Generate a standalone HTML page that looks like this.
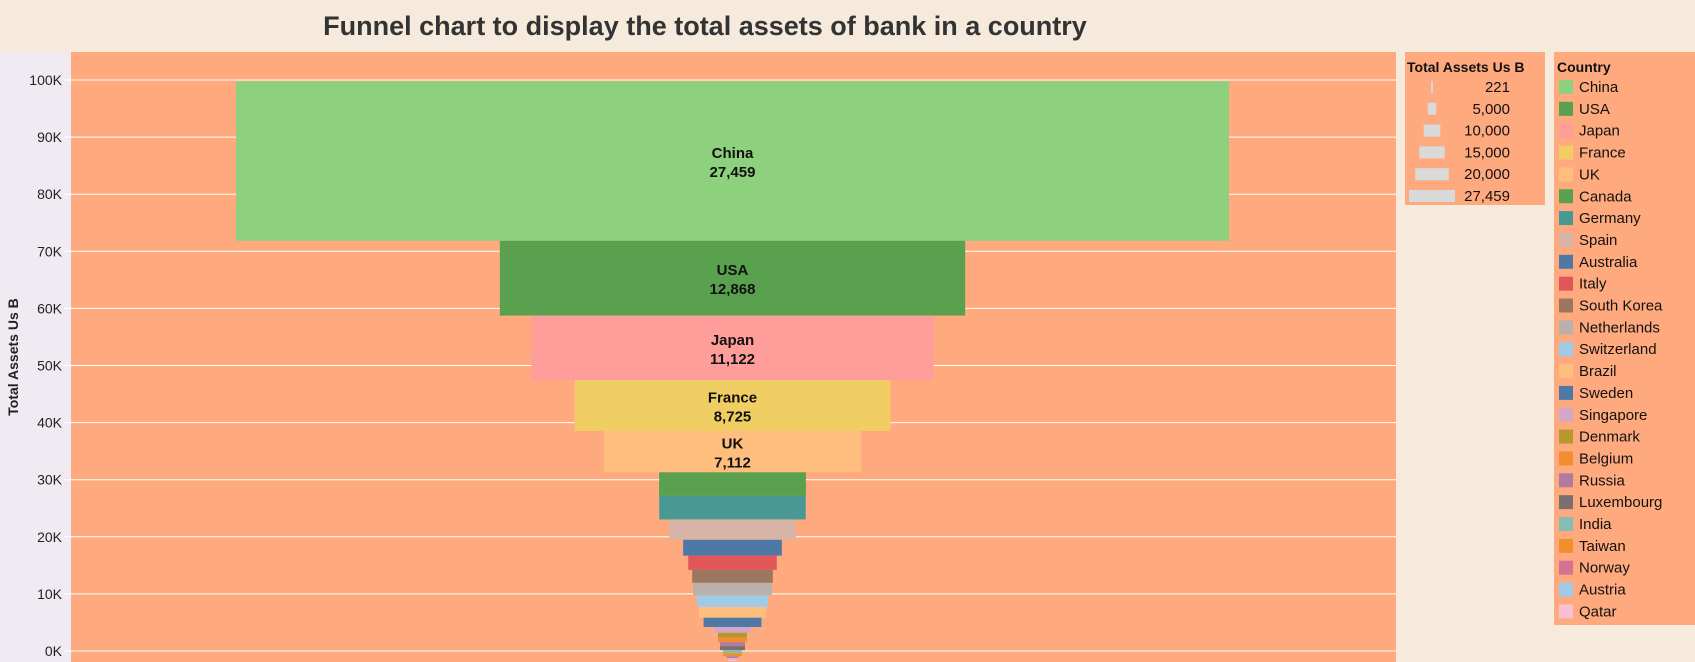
<!DOCTYPE html>
<html><head><meta charset="utf-8"><style>
body{margin:0;width:1695px;height:662px;overflow:hidden;background:#f5eadb;font-family:"Liberation Sans","DejaVu Sans",sans-serif;}
svg{display:block}
</style></head><body>
<svg id="chart" width="1695" height="662" xmlns="http://www.w3.org/2000/svg">
<rect x="0" y="0" width="1695" height="662" fill="#f5eadb"/>
<text x="705" y="35" text-anchor="middle" font-size="27" font-weight="bold" fill="#333">Funnel chart to display the total assets of bank in a country</text>
<rect x="0" y="52" width="71" height="610" fill="#f0ebf2"/>
<rect x="71" y="52" width="1325" height="610" fill="#ffaa7e"/>
<rect x="1405" y="52" width="140" height="153" fill="#ffaa7e"/>
<rect x="1554" y="52" width="141" height="573" fill="#ffaa7e"/>
<text transform="translate(18,357) rotate(-90)" text-anchor="middle" font-size="14" font-weight="bold" fill="#222">Total Assets Us B</text>
<g id="grid"></g><g id="bars"></g><g id="labels"></g><g id="slegend"></g><g id="clegend"></g>
</svg>
<script>
const countries=["China","USA","Japan","France","UK","Canada","Germany","Spain","Australia","Italy","South Korea","Netherlands","Switzerland","Brazil","Sweden","Singapore","Denmark","Belgium","Russia","Luxembourg","India","Taiwan","Norway","Austria","Qatar"];
const assets=[27459,12868,11122,8725,7112,4060,4050,3500,2730,2450,2230,2180,1960,1850,1600,1000,800,800,690,690,520,520,330,280,221];
const colors=["#8dd17e","#59a14f","#ff9d9a","#f1ce63","#ffbe7d","#59a14f","#499894","#d7b5a6","#4e79a7","#e15759","#9d7660","#bab0ac","#a0cbe8","#ffbe7d","#4e79a7","#d4a6c8","#b6992d","#f28e2b","#b07aa1","#79706e","#86bcb6","#f28e2b","#d37295","#a0cbe8","#fabfd2"];
const yTicks=[0,10000,20000,30000,40000,50000,60000,70000,80000,90000,100000];
const yTickLabels=["0K","10K","20K","30K","40K","50K","60K","70K","80K","90K","100K"];
const sizeLegendValues=[221,5000,10000,15000,20000,27459];
const NS="http://www.w3.org/2000/svg";
function y(v){return 651-v*(571/100000);}
function w(v){return v*993/27459;}
const cx=732.5;
const baseOffset=-1750;
const stackScale=1.018;
function mk(tag,attrs,parent){const e=document.createElementNS(NS,tag);for(const k in attrs)e.setAttribute(k,attrs[k]);document.getElementById(parent).appendChild(e);return e;}
yTicks.forEach((t,i)=>{
 const l=mk('line',{x1:64,x2:1396,y1:y(t),y2:y(t),stroke:'#fff','stroke-width':1},'grid');
 
 
 const tx=mk('text',{x:62,y:y(t)+5,'text-anchor':'end','font-size':14,fill:'#222'},'grid');
 tx.textContent=yTickLabels[i];
 
 
});
let rem=assets.reduce((a,b)=>a+b,0);
function sy(v){return y(v*stackScale+baseOffset);}
assets.forEach((v,i)=>{
 const top=rem, bot=rem-v; rem=bot;
 const r=mk('rect',{x:cx-w(v)/2,y:sy(top),width:w(v),height:sy(bot)-sy(top),fill:colors[i]},'bars');
 
 
 if(i<5){
  const my=(sy(top)+sy(bot))/2;
  const t1=mk('text',{x:cx,y:my-3,'text-anchor':'middle','font-size':15,'font-weight':'bold',fill:'#111'},'labels');
  t1.textContent=countries[i];
  
  
  const t2=mk('text',{x:cx,y:my+16,'text-anchor':'middle','font-size':15,'font-weight':'bold',fill:'#111'},'labels');
  t2.textContent=v.toLocaleString('en-US');
  
  
 }
});
const st=mk('text',{x:1407,y:72,'font-size':14,'font-weight':'bold',fill:'#111'},'slegend');
st.textContent='Total Assets Us B';


sizeLegendValues.forEach((v,i)=>{
 const yy=87+i*21.8; const ww=Math.max(2,v*46/27459);
 const r=mk('rect',{x:1432-ww/2,y:yy-6,width:ww,height:12,fill:'#d9d9d9'},'slegend');
 
 
 const t=mk('text',{x:1510,y:yy+5,'text-anchor':'end','font-size':15,fill:'#111'},'slegend');
 t.textContent=v.toLocaleString('en-US');
 
 
});
const ct=mk('text',{x:1557,y:72,'font-size':14,'font-weight':'bold',fill:'#111'},'clegend');
ct.textContent='Country';


countries.forEach((c,i)=>{
 const yy=87+i*21.85;
 const r=mk('rect',{x:1559,y:yy-7,width:14,height:14,fill:colors[i]},'clegend');
 
 
 const t=mk('text',{x:1579,y:yy+5,'font-size':15,fill:'#111'},'clegend');
 t.textContent=c;
 
 
});
</script>
</body></html>
